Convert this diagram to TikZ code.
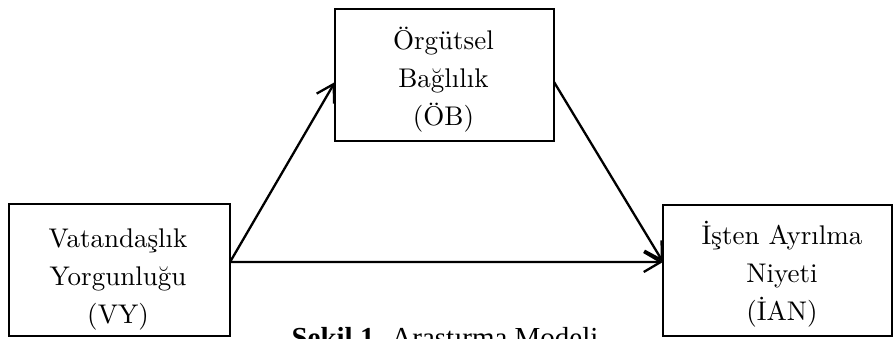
\documentclass[tikz,border=0pt]{standalone}
\usepackage{fontspec}
\setmainfont{lmroman10-regular.otf}[BoldFont=lmroman10-bold.otf]
\newfontfamily\capfont{Liberation Serif}
\usetikzlibrary{arrows.meta,calc}
\begin{document}
\begin{tikzpicture}[x=1pt,y=-1pt,
  box/.style={draw, line width=2.6pt, inner sep=0pt, outer sep=0pt},
  boxtext/.style={font=\fontsize{27}{38}\selectfont, align=center, inner sep=0pt},
  arr/.style={line width=2.3pt, -{Straight Barb[length=17pt,width=20pt]}}]
\useasboundingbox (0,0) rectangle (893,338);
\clip (0,0) rectangle (893,338);
\node[box, minimum width=221pt, minimum height=132pt] (vy) at (119.5,270) {};
\node[box, minimum width=219pt, minimum height=132pt] (ob) at (444.5,75) {};
\node[box, minimum width=229pt, minimum height=131pt] (ian) at (777.5,270.5) {};
\node[boxtext] (vyt) at (118,279) {Vatandaşlık\\Yorgunluğu\\(VY)};
\node[boxtext] (obt) at (443.5,79.6) {Örgütsel\\Bağlılık\\(ÖB)};
\node[boxtext] (iant) at (782,274.6) {İşten Ayrılma\\Niyeti\\(İAN)};
\coordinate (vyout) at ($(vy.north east)!0.44!(vy.south east)$);
\coordinate (obin) at ($(ob.north west)!0.553!(ob.south west)$);
\coordinate (obout) at ($(ob.north east)!0.553!(ob.south east)$);
\coordinate (ianin) at ($(ian.north west)!0.435!(ian.south west)$);
\draw[arr] (vyout) -- (obin);
\draw[arr] (vyout) -- (ianin);
\draw[arr] (obout) -- (ianin);
\node[font=\capfont\fontsize{29}{34}\selectfont, anchor=base, inner sep=0pt] (cap) at (445,347) {\textbf{Şekil 1.} Araştırma Modeli};
\end{tikzpicture}
\end{document}
